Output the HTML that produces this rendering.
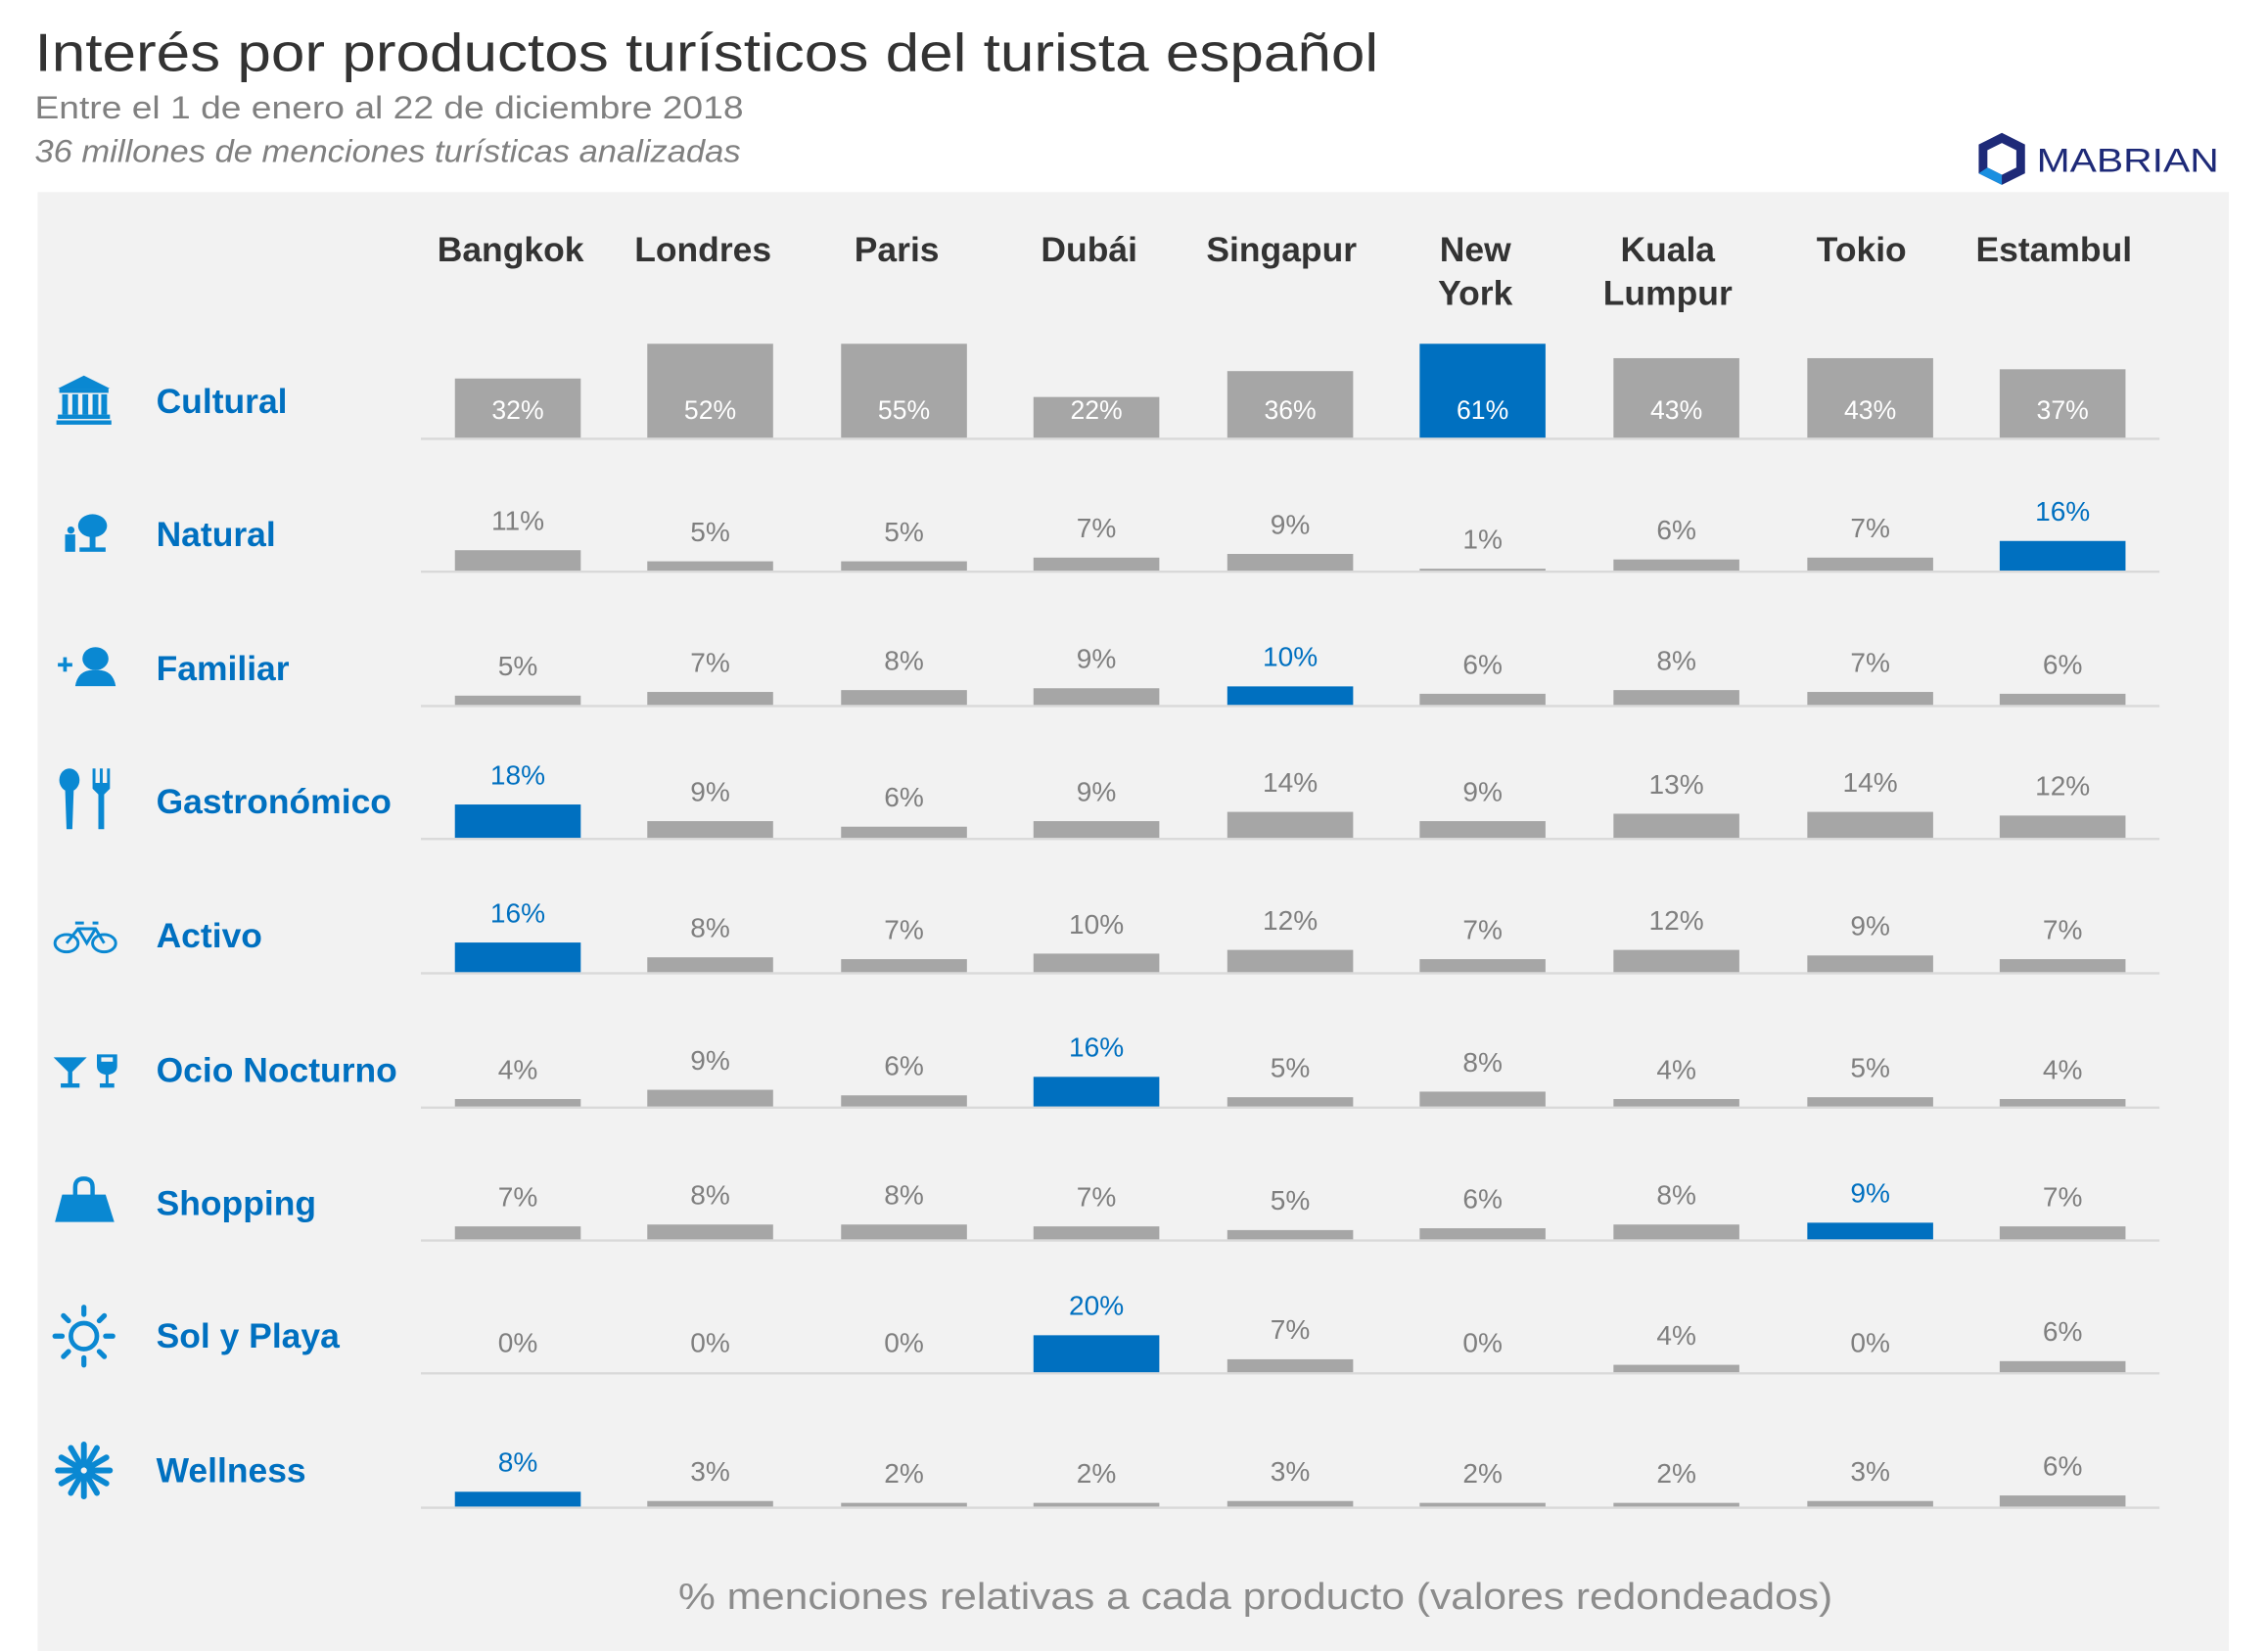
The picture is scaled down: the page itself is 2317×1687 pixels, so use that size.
<!DOCTYPE html>
<html><head><meta charset="utf-8"><style>
html,body{margin:0;padding:0;background:#fff;}
svg{display:block;}
text{font-family:"Liberation Sans",sans-serif;}
</style></head><body>
<svg id="s" width="2317" height="1687" viewBox="0 0 1568 1143" preserveAspectRatio="none" xmlns="http://www.w3.org/2000/svg">
<rect x="0" y="0" width="1568" height="1143" fill="#fff"/>
<text x="24" y="49" font-size="37" fill="#333" textLength="929" lengthAdjust="spacingAndGlyphs">Interés por productos turísticos del turista español</text>
<text x="24" y="82" font-size="22" fill="#808080" textLength="490" lengthAdjust="spacingAndGlyphs">Entre el 1 de enero al 22 de diciembre 2018</text>
<text x="24" y="112" font-size="22" fill="#808080" font-style="italic" textLength="488" lengthAdjust="spacingAndGlyphs">36 millones de menciones turísticas analizadas</text>
<g>
<polygon points="1384,92 1400,100 1400,120 1384,128 1368,120 1368,100" fill="#1e2a78"/>
<polygon points="1384,99 1394,104 1394,116 1384,121 1374,116 1374,104" fill="#fff"/>
<polygon points="1384,128 1368,120 1374,116 1384,121" fill="#1a8fe0"/>
<text x="1408" y="119" font-size="23" fill="#1e2a78" textLength="126" lengthAdjust="spacingAndGlyphs">MABRIAN</text>
</g>
<rect x="26" y="133" width="1515" height="1010" fill="#f2f2f2"/>
<g id="g"></g>
<text x="868" y="1114" font-size="26" fill="#8c8c8c" text-anchor="middle" textLength="798" lengthAdjust="spacingAndGlyphs">% menciones relativas a cada producto (valores redondeados)</text>
</svg>
<script>
var g=document.getElementById('g');var h='';
var cities=[["Bangkok"],["Londres"],["Paris"],["Dubái"],["Singapur"],["New","York"],["Kuala","Lumpur"],["Tokio"],["Estambul"]];
var hc=[353,486,620,753,886,1020,1153,1287,1420];
var bc=[358,491,625,758,892,1025,1159,1293,1426];
cities.forEach(function(c,i){c.forEach(function(t,j){h+='<text x="'+hc[i]+'" y="'+(181+j*30)+'" font-size="24" font-weight="bold" fill="#333" text-anchor="middle">'+t+'</text>';});});
var rows=[["Cultural",[32,52,55,22,36,61,43,43,37],5],
["Natural",[11,5,5,7,9,1,6,7,16],8],
["Familiar",[5,7,8,9,10,6,8,7,6],4],
["Gastronómico",[18,9,6,9,14,9,13,14,12],0],
["Activo",[16,8,7,10,12,7,12,9,7],0],
["Ocio Nocturno",[4,9,6,16,5,8,4,5,4],3],
["Shopping",[7,8,8,7,5,6,8,9,7],7],
["Sol y Playa",[0,0,0,20,7,0,4,0,6],3],
["Wellness",[8,3,2,2,3,2,2,3,6],0]];
var B='#0070c0',I='#0a88d2';
rows.forEach(function(r,k){
 var y=[303,395,488,580,673,766,858,950,1043][k];
 h+='<rect x="291" y="'+y+'" width="1202" height="1.6" fill="#d9d9d9"/>';
 h+='<text x="108" y="'+(y-17)+'" font-size="24" font-weight="bold" fill="'+B+'">'+r[0]+'</text>';
 r[1].forEach(function(v,i){
  var hi=(i==r[2]);var bh=Math.min(65,v*1.28);var col=hi?B:'#a6a6a6';
  if(v>0)h+='<rect x="'+(bc[i]-43.5)+'" y="'+(y-bh)+'" width="87" height="'+bh+'" fill="'+col+'"/>';
  if(k==0)h+='<text x="'+bc[i]+'" y="'+(y-13)+'" font-size="18" fill="#fff" text-anchor="middle">'+v+'%</text>';
  else h+='<text x="'+bc[i]+'" y="'+(y-bh-14)+'" font-size="19" fill="'+(hi?B:'#7f7f7f')+'" text-anchor="middle">'+v+'%</text>';
 });
 var cy=y-26;var ic='';
 if(k==0)ic='<polygon points="40,'+(cy-8)+' 58,'+(cy-17)+' 76,'+(cy-8)+'" fill="'+I+'"/><rect x="41" y="'+(cy-8)+'" width="34" height="3" fill="'+I+'"/>'+[43,50,57,64,70].map(function(x){return '<rect x="'+x+'" y="'+(cy-4)+'" width="4" height="14" fill="'+I+'"/>';}).join('')+'<rect x="40" y="'+(cy+10)+'" width="36" height="3" fill="'+I+'"/><rect x="39" y="'+(cy+14)+'" width="38" height="3" fill="'+I+'"/>';
 if(k==1)ic='<ellipse cx="64" cy="'+(cy-5)+'" rx="10" ry="8" fill="'+I+'"/><rect x="62" y="'+(cy)+'" width="4" height="12" fill="'+I+'"/><rect x="55" y="'+(cy+10)+'" width="18" height="3" fill="'+I+'"/><circle cx="49" cy="'+(cy-2)+'" r="2.5" fill="'+I+'"/><rect x="45" y="'+(cy+1)+'" width="7" height="12" fill="'+I+'"/>';
 if(k==2)ic='<ellipse cx="66" cy="'+(cy-6)+'" rx="9" ry="8" fill="'+I+'"/><path d="M52 '+(cy+13)+' Q54 '+(cy+1)+' 66 '+(cy+2)+' Q78 '+(cy+1)+' 80 '+(cy+13)+' Z" fill="'+I+'"/><rect x="40" y="'+(cy-3)+'" width="10" height="2.5" fill="'+I+'"/><rect x="43.7" y="'+(cy-7)+'" width="2.5" height="10" fill="'+I+'"/>';
 if(k==3)ic='<ellipse cx="48" cy="'+(cy-14)+'" rx="7" ry="8" fill="'+I+'"/><path d="M45 '+(cy-8)+' L51 '+(cy-8)+' L50 '+(cy+20)+' L46 '+(cy+20)+' Z" fill="'+I+'"/><path d="M64 '+(cy-22)+' L66 '+(cy-22)+' L66 '+(cy-12)+' L69 '+(cy-12)+' L69 '+(cy-22)+' L71 '+(cy-22)+' L71 '+(cy-12)+' L74 '+(cy-12)+' L74 '+(cy-22)+' L76 '+(cy-22)+' L76 '+(cy-8)+' L72 '+(cy-4)+' L72 '+(cy+20)+' L68 '+(cy+20)+' L68 '+(cy-4)+' L64 '+(cy-8)+' Z" fill="'+I+'"/>';
 if(k==4)ic='<g fill="none" stroke="'+I+'" stroke-width="2"><ellipse cx="46" cy="'+(cy+6)+'" rx="8" ry="6"/><ellipse cx="72" cy="'+(cy+6)+'" rx="8" ry="6"/><path d="M46 '+(cy+6)+' L54 '+(cy-4)+' L66 '+(cy-4)+' L72 '+(cy+6)+' M54 '+(cy-4)+' L60 '+(cy+6)+' L66 '+(cy-4)+' M52 '+(cy-8)+' L58 '+(cy-8)+' M64 '+(cy-8)+' L68 '+(cy-8)+'"/></g>';
 if(k==5)ic='<polygon points="37,'+(cy-8)+' 60,'+(cy-8)+' 50,'+(cy+2)+' 50,'+(cy+10)+' 55,'+(cy+10)+' 55,'+(cy+13)+' 42,'+(cy+13)+' 42,'+(cy+10)+' 47,'+(cy+10)+' 47,'+(cy+2)+'" fill="'+I+'"/><path d="M67 '+(cy-10)+' L81 '+(cy-10)+' L81 '+(cy-2)+' Q81 '+(cy+3)+' 75 '+(cy+4)+' L75 '+(cy+10)+' L79 '+(cy+10)+' L79 '+(cy+13)+' L69 '+(cy+13)+' L69 '+(cy+10)+' L73 '+(cy+10)+' L73 '+(cy+4)+' Q67 '+(cy+3)+' 67 '+(cy-2)+' Z" fill="'+I+'"/><rect x="70" y="'+(cy-8)+'" width="8" height="3" fill="#f2f2f2"/>';
 if(k==6)ic='<path d="M52 '+(cy-4)+' L52 '+(cy-10)+' Q52 '+(cy-16)+' 58 '+(cy-16)+' Q64 '+(cy-16)+' 64 '+(cy-10)+' L64 '+(cy-4)+'" fill="none" stroke="'+I+'" stroke-width="3"/><polygon points="43,'+(cy-5)+' 73,'+(cy-5)+' 79,'+(cy+14)+' 38,'+(cy+14)+'" fill="'+I+'"/>';
 if(k==7){ic='<circle cx="58" cy="'+(cy+1)+'" r="9" fill="none" stroke="'+I+'" stroke-width="3.2"/>';for(var a=0;a<8;a++){var t=a*Math.PI/4;ic+='<line x1="'+(58+15*Math.cos(t))+'" y1="'+(cy+1+15*Math.sin(t))+'" x2="'+(58+20*Math.cos(t))+'" y2="'+(cy+1+20*Math.sin(t))+'" stroke="'+I+'" stroke-width="3.5" stroke-linecap="round"/>';}}
 if(k==8){ic='';for(var a=0;a<12;a++){var t=a*Math.PI/6;ic+='<line x1="'+(58+4*Math.cos(t))+'" y1="'+(cy+1+4*Math.sin(t))+'" x2="'+(58+18*Math.cos(t))+'" y2="'+(cy+1+18*Math.sin(t))+'" stroke="'+I+'" stroke-width="4" stroke-linecap="round"/>';}}
 h+=ic;
});
g.innerHTML=h;
</script>
</body></html>
